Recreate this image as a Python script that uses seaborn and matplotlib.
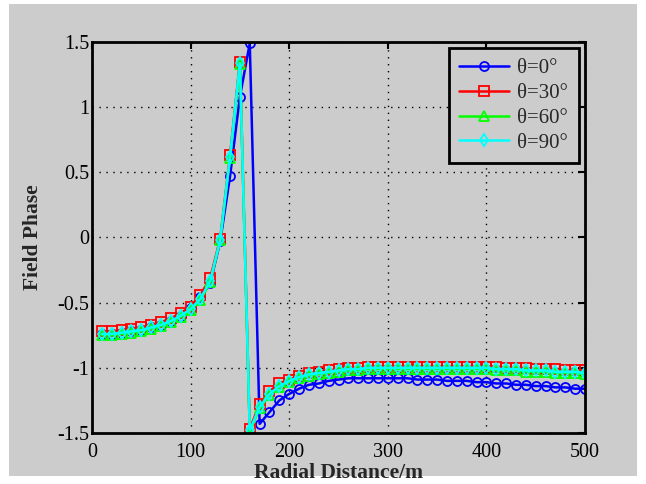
import numpy as np
import pandas as pd
import matplotlib
matplotlib.use("Agg")
import matplotlib.pyplot as plt
import seaborn as sns
from matplotlib.patches import Rectangle

distance = list(range(10, 501, 10))

phase_0 = [-0.74, -0.74, -0.73, -0.72, -0.71, -0.69, -0.67, -0.64, -0.60, -0.54,
           -0.46, -0.35, -0.03, 0.47, 1.08, 1.49, -1.43, -1.34, -1.25, -1.20,
           -1.16, -1.13, -1.12, -1.10, -1.09, -1.08, -1.08, -1.08, -1.08, -1.08,
           -1.08, -1.08, -1.09, -1.09, -1.09, -1.10, -1.10, -1.10, -1.11, -1.11,
           -1.12, -1.12, -1.13, -1.13, -1.14, -1.14, -1.15, -1.15, -1.16, -1.16]
phase_30 = [-0.72, -0.72, -0.71, -0.70, -0.69, -0.67, -0.65, -0.62, -0.58, -0.53,
            -0.44, -0.31, -0.01, 0.63, 1.35, -1.47, -1.28, -1.18, -1.12, -1.09,
            -1.06, -1.04, -1.03, -1.02, -1.01, -1.00, -1.00, -0.99, -0.99, -0.99,
            -0.99, -0.99, -0.99, -0.99, -0.99, -0.99, -0.99, -0.99, -0.99, -0.99,
            -0.99, -1.00, -1.00, -1.00, -1.01, -1.01, -1.01, -1.02, -1.02, -1.02]
phase_60 = [-0.75, -0.75, -0.74, -0.73, -0.72, -0.70, -0.68, -0.65, -0.61, -0.56,
            -0.48, -0.34, -0.02, 0.61, 1.33, -1.49, -1.31, -1.21, -1.15, -1.11,
            -1.08, -1.06, -1.05, -1.04, -1.03, -1.02, -1.02, -1.01, -1.01, -1.01,
            -1.01, -1.01, -1.01, -1.01, -1.01, -1.01, -1.01, -1.01, -1.01, -1.01,
            -1.02, -1.02, -1.02, -1.03, -1.03, -1.03, -1.04, -1.04, -1.04, -1.05]
phase_90 = [-0.74, -0.74, -0.73, -0.72, -0.71, -0.69, -0.67, -0.64, -0.60, -0.55,
            -0.47, -0.33, -0.02, 0.62, 1.34, -1.48, -1.30, -1.20, -1.14, -1.10,
            -1.07, -1.05, -1.04, -1.03, -1.02, -1.01, -1.01, -1.00, -1.00, -1.00,
            -1.00, -1.00, -1.00, -1.00, -1.00, -1.00, -1.00, -1.00, -1.00, -1.00,
            -1.01, -1.01, -1.01, -1.02, -1.02, -1.02, -1.03, -1.03, -1.03, -1.04]

labels = ["θ=0°", "θ=30°", "θ=60°", "θ=90°"]
x_ticks = [0, 100, 200, 300, 400, 500]
y_ticks = [-1.5, -1, -0.5, 0, 0.5, 1, 1.5]
y_tick_labels = ["-1.5", "-1", "-0.5", "0", "0.5", "1", "1.5"]

series = [phase_0, phase_30, phase_60, phase_90]
colors = ["#0000ff", "#ff0000", "#00ff00", "#00ffff"]
markers = ["o", "s", "^", "d"]

sns.set_style("white")
plt.rcParams["font.family"] = ["Liberation Serif", "DejaVu Serif"]

fig = plt.figure(figsize=(6.46, 4.84), dpi=100, facecolor="white")
fig.patches.append(Rectangle((9 / 646, 1 - 476 / 484), (637 - 9) / 646, (476 - 4) / 484,
                             transform=fig.transFigure, facecolor="#cccccc",
                             edgecolor="none", zorder=-10))
ax = fig.add_axes([92 / 646, 1 - 433 / 484, (585 - 92) / 646, (433 - 42) / 484])
ax.set_facecolor("#cccccc")

for ys, lab, c, m in zip(series, labels, colors, markers):
    sns.lineplot(x=distance, y=ys, ax=ax, color=c, marker=m, markersize=6.5,
                 markerfacecolor="none", markeredgecolor=c, markeredgewidth=1.3,
                 linewidth=1.8, label=lab, errorbar=None, sort=False)

ax.set_xlim(0, 500)
ax.set_ylim(-1.5, 1.5)
ax.set_xticks(x_ticks)
ax.set_xticklabels([str(t) for t in x_ticks])
ax.set_yticks(y_ticks)
ax.set_yticklabels(y_tick_labels)
ax.tick_params(direction="in", top=True, right=True, length=5, width=1.5,
               labelsize=14.5, colors="black")
ax.tick_params(axis="x", pad=7)
ax.tick_params(axis="y", pad=2)
ax.grid(True, color="black", linestyle=(0, (1, 4)), linewidth=1.0)
for s in ax.spines.values():
    s.set_visible(True)
    s.set_color("black")
    s.set_linewidth(2)

ax.set_xlabel("Radial Distance/m", fontsize=15.5, fontweight="bold", labelpad=1)
ax.set_ylabel("Field Phase", fontsize=15.5, fontweight="bold", labelpad=10)

leg = ax.legend(loc="upper right", fontsize=15, frameon=True, fancybox=False,
                edgecolor="black", facecolor="#cccccc", framealpha=1,
                handlelength=2.4, handletextpad=0.4, borderaxespad=0.3,
                labelspacing=0.25, borderpad=0.5)
leg.get_frame().set_linewidth(2)

fig.savefig("out.png", dpi=100, facecolor="white")
